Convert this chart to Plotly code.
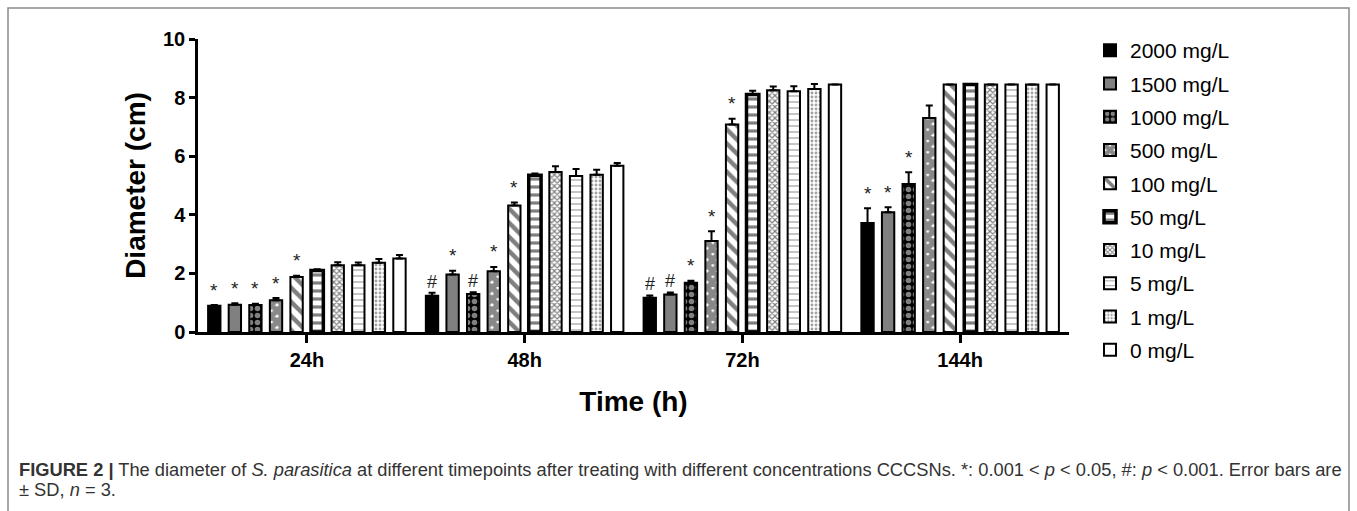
import plotly.graph_objects as go

# ---------------- data ----------------
categories = ["24h", "48h", "72h", "144h"]
concentrations = ["2000 mg/L", "1500 mg/L", "1000 mg/L", "500 mg/L", "100 mg/L",
                  "50 mg/L", "10 mg/L", "5 mg/L", "1 mg/L", "0 mg/L"]

mean_2000 = [0.90, 1.24, 1.17, 3.72]
mean_1500 = [0.93, 1.96, 1.28, 4.09]
mean_1000 = [0.92, 1.30, 1.68, 5.05]
mean_500 = [1.08, 2.07, 3.11, 7.30]
mean_100 = [1.88, 4.32, 7.08, 8.45]
mean_50 = [2.10, 5.35, 8.11, 8.45]
mean_10 = [2.28, 5.46, 8.25, 8.45]
mean_5 = [2.28, 5.32, 8.22, 8.45]
mean_1 = [2.36, 5.37, 8.29, 8.45]
mean_0 = [2.51, 5.67, 8.45, 8.45]

sd_2000 = [0.02, 0.10, 0.08, 0.50]
sd_1500 = [0.05, 0.13, 0.07, 0.17]
sd_1000 = [0.04, 0.06, 0.07, 0.40]
sd_500 = [0.08, 0.15, 0.33, 0.43]
sd_100 = [0.04, 0.10, 0.20, 0.0]
sd_50 = [0.04, 0.06, 0.12, 0.0]
sd_10 = [0.10, 0.20, 0.13, 0.0]
sd_5 = [0.09, 0.24, 0.17, 0.0]
sd_1 = [0.13, 0.17, 0.17, 0.0]
sd_0 = [0.12, 0.10, 0.0, 0.0]

sig_2000 = ["*", "#", "#", "*"]
sig_1500 = ["*", "*", "#", "*"]
sig_1000 = ["*", "#", "*", "*"]
sig_500 = ["*", "*", "*", ""]
sig_100 = ["*", "*", "*", ""]
sig_50 = ["", "", "", ""]
sig_10 = ["", "", "", ""]
sig_5 = ["", "", "", ""]
sig_1 = ["", "", "", ""]
sig_0 = ["", "", "", ""]

means = [mean_2000, mean_1500, mean_1000, mean_500, mean_100, mean_50, mean_10, mean_5, mean_1, mean_0]
sds = [sd_2000, sd_1500, sd_1000, sd_500, sd_100, sd_50, sd_10, sd_5, sd_1, sd_0]
sigs = [sig_2000, sig_1500, sig_1000, sig_500, sig_100, sig_50, sig_10, sig_5, sig_1, sig_0]

caption_1 = ("<b>FIGURE 2 |</b> The diameter of <i>S. parasitica</i> at different timepoints after treating "
             "with different concentrations CCCSNs. *: 0.001 &lt; <i>p</i> &lt; 0.05, #: <i>p</i> &lt; 0.001. Error bars are")
caption_2 = "± SD, <i>n</i> = 3."

# ---------------- styles ----------------
styles = [
    dict(color="black", pattern=dict(shape=""), lw=2),
    dict(color="#808080", pattern=dict(shape=""), lw=2),
    dict(color="black", pattern=dict(shape=".", fgcolor="white", bgcolor="black", size=7, solidity=0.5), lw=2),
    dict(color="white", pattern=dict(shape="x", fgcolor="#111111", bgcolor="white", size=8, solidity=0.9), lw=2),
    dict(color="white", pattern=dict(shape="\\", fgcolor="black", bgcolor="white", size=10, solidity=0.45), lw=2),
    dict(color="white", pattern=dict(shape="-", fgcolor="black", bgcolor="white", size=8, solidity=0.4), lw=3.5),
    dict(color="white", pattern=dict(shape="x", fgcolor="black", bgcolor="white", size=4, solidity=0.5), lw=2),
    dict(color="white", pattern=dict(shape="-", fgcolor="black", bgcolor="white", size=6, solidity=0.15), lw=2),
    dict(color="white", pattern=dict(shape=".", fgcolor="#444444", bgcolor="white", size=4, solidity=0.4), lw=2),
    dict(color="white", pattern=dict(shape=""), lw=2),
]

W, H = 1357, 511
ML, MR, MT, MB = 198, 288, 39, 179
BARGAP = 0.055
pw = W - ML - MR
ph = H - MT - MB

fig = go.Figure()
for i, name in enumerate(concentrations):
    st = styles[i]
    fig.add_trace(go.Bar(
        name=name, x=categories, y=means[i],
        legendgroup=name,
        marker=dict(color=st["color"], pattern=st["pattern"],
                    line=dict(color="black", width=st["lw"])),
        error_y=dict(type="data", symmetric=False, array=sds[i], arrayminus=[0] * len(categories),
                     color="black", thickness=2, width=3.5),
    ))

# significance marks
slot = pw / len(categories) * (1 - BARGAP) / len(concentrations)
annotations = []
for i in range(len(concentrations)):
    for j, c in enumerate(categories):
        s = sigs[i][j]
        if not s:
            continue
        top = means[i][j] + sds[i][j]
        annotations.append(dict(
            x=c, y=top, xref="x", yref="y", text=s, showarrow=False,
            xshift=(i - (len(concentrations) - 1) / 2) * slot,
            yshift=15 if s == "*" else 11, yanchor="middle",
            font=dict(family="Liberation Sans, Arial", size=19 if s == "*" else 18, color="#222"),
        ))

def px_x(p):
    return (p - ML) / pw

def px_y(p):
    return (H - MB - p) / ph

annotations.append(dict(x=px_x(17), y=px_y(469), xref="paper", yref="paper", text=caption_1,
                        showarrow=False, xanchor="left", yanchor="middle", align="left",
                        font=dict(family="Liberation Sans, Arial", size=18.3, color="#333")))
annotations.append(dict(x=px_x(17), y=px_y(489), xref="paper", yref="paper", text=caption_2,
                        showarrow=False, xanchor="left", yanchor="middle", align="left",
                        font=dict(family="Liberation Sans, Arial", size=18.3, color="#333")))

shapes = [dict(type="rect", xref="paper", yref="paper",
               x0=px_x(8), x1=px_x(1349), y0=px_y(540), y1=px_y(8),
               line=dict(color="#8a8a8a", width=1.5), fillcolor="rgba(0,0,0,0)", layer="below")]

fig.update_layout(
    width=W, height=H,
    margin=dict(l=ML, r=MR, t=MT, b=MB, autoexpand=False),
    paper_bgcolor="white", plot_bgcolor="white",
    barmode="group", bargap=BARGAP, bargroupgap=0.4,
    font=dict(family="Liberation Sans, Arial", color="black"),
    showlegend=True,
    legend=dict(x=px_x(1090), y=px_y(30), xanchor="left", yanchor="top",
                font=dict(size=21, family="Liberation Sans, Arial", color="black"),
                traceorder="grouped", tracegroupgap=3, bgcolor="rgba(0,0,0,0)",
                maxheight=500),
    annotations=annotations,
    shapes=shapes,
)
fig.update_xaxes(
    showline=True, linecolor="black", linewidth=2.5,
    ticks="outside", ticklen=8, tickwidth=2.5, tickcolor="black",
    tickfont=dict(size=20, family="Liberation Sans, Arial", weight="bold"),
    title=dict(text="<b>Time (h)</b>", font=dict(size=28), standoff=22),
    showgrid=False, zeroline=False,
)
fig.update_yaxes(
    range=[0, 10], tickvals=[0, 2, 4, 6, 8, 10],
    showline=True, linecolor="black", linewidth=2.5,
    ticks="outside", ticklen=6, tickwidth=2.5, tickcolor="black",
    tickfont=dict(size=20, family="Liberation Sans, Arial", weight="bold"),
    title=dict(text="<b>Diameter (cm)</b>", font=dict(size=28), standoff=10),
    showgrid=False, zeroline=False,
)

fig.write_html("out.html", config={"displayModeBar": False},
               post_script="document.body.style.margin='0';")
